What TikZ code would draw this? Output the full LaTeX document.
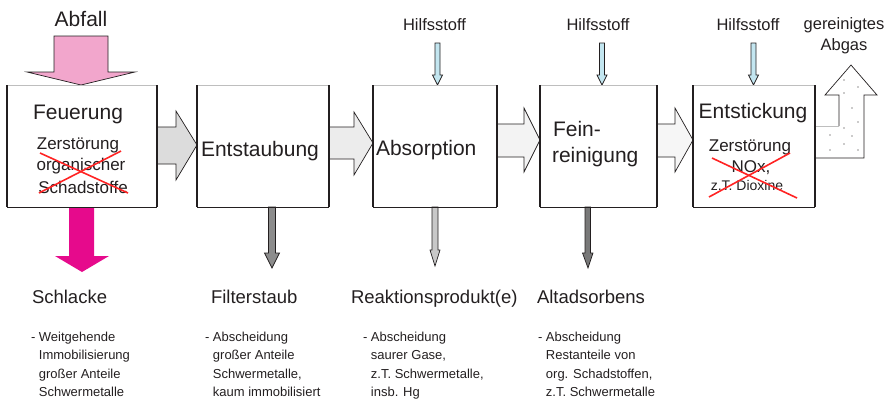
\documentclass[tikz,border=0pt]{standalone}
\usepackage{fontspec}
\setmainfont{Liberation Sans}
\usetikzlibrary{calc}

\definecolor{txtgray}{RGB}{35,31,32}
\definecolor{topgray}{RGB}{190,190,190}
\definecolor{abfallpink}{RGB}{242,166,204}
\definecolor{schlackemag}{RGB}{230,10,140}
\definecolor{hilfsblue}{RGB}{195,230,240}
\definecolor{crossred}{RGB}{255,35,35}
\definecolor{flowA}{RGB}{220,220,220}
\definecolor{flowB}{RGB}{236,236,236}
\definecolor{flowC}{RGB}{243,243,243}
\definecolor{flowD}{RGB}{246,246,246}
\definecolor{staubgray}{RGB}{140,140,140}
\definecolor{reakgray}{RGB}{200,200,200}
\definecolor{altgray}{RGB}{120,120,120}

\begin{document}
\begin{tikzpicture}[x=1pt,y=1pt]
\tikzstyle{every node}+=[inner sep=0pt, outer sep=0pt, text=txtgray]
\tikzstyle{stage}=[minimum height=122]
\tikzstyle{title}=[font=\fontsize{21}{26}\selectfont]
\tikzstyle{sub}=[font=\fontsize{17}{22}\selectfont]
\tikzstyle{small}=[font=\fontsize{14}{17}\selectfont]
\tikzstyle{label}=[font=\fontsize{18.5}{23}\selectfont, anchor=base west]
\tikzstyle{note}=[font=\fontsize{13}{18.5}\selectfont, anchor=base west, align=left]
\tikzstyle{hilfs}=[font=\fontsize{16.5}{21}\selectfont, anchor=base, align=center]
\tikzstyle{outl}=[draw=txtgray, line width=0.7]
\tikzstyle{cross}=[crossred, line width=1.6]
\useasboundingbox (0,0) rectangle (893,-400);

% stages
\node [stage, minimum width=150] (feu) at (82,-146) {};
\node [stage, minimum width=132] (ent) at (263,-146) {};
\node [stage, minimum width=124] (abs) at (435,-146) {};
\node [stage, minimum width=117] (fein) at (598.5,-146) {};
\node [stage, minimum width=122] (nox) at (754,-146) {};

% gas flow between the stages
\draw [outl, fill=flowA] let \p1=(feu.east), \p2=(ent.west) in
  (\x1,-127pt) -- (\x2-21pt,-127pt) -- (\x2-21pt,-111pt) -- (\x2,-145pt)
  -- (\x2-21pt,-180pt) -- (\x2-21pt,-164pt) -- (\x1,-164pt);
\draw [outl, fill=flowB] let \p1=(ent.east), \p2=(abs.west) in
  (\x1,-127pt) -- (\x2-19pt,-127pt) -- (\x2-19pt,-112pt) -- (\x2,-143pt)
  -- (\x2-19pt,-175pt) -- (\x2-19pt,-159pt) -- (\x1,-159pt);
\draw [outl, fill=flowC] let \p1=(abs.east), \p2=(fein.west) in
  (\x1,-124pt) -- (\x2-16pt,-124pt) -- (\x2-16pt,-108pt) -- (\x2,-140pt)
  -- (\x2-16pt,-172pt) -- (\x2-16pt,-157pt) -- (\x1,-157pt);
\draw [outl, fill=flowD] let \p1=(fein.east), \p2=(nox.west) in
  (\x1,-124pt) -- (\x2-18pt,-124pt) -- (\x2-18pt,-108pt) -- (\x2,-140pt)
  -- (\x2-18pt,-172pt) -- (\x2-18pt,-157pt) -- (\x1,-157pt);

% clean gas
\fill [white] let \p1=(nox.east) in
  (\x1,-126pt) -- (\x1+24pt,-126pt) -- (\x1+24pt,-95pt) -- (\x1+10pt,-95pt)
  -- (\x1+36pt,-65pt) -- (\x1+62pt,-95pt) -- (\x1+49pt,-95pt)
  -- (\x1+49pt,-158pt) -- (\x1,-158pt) -- cycle;
\draw [outl] let \p1=(nox.east) in
  (\x1+24pt,-126pt) -- (\x1+24pt,-95pt) -- (\x1+10pt,-95pt)
  -- (\x1+36pt,-65pt) -- (\x1+62pt,-95pt) -- (\x1+49pt,-95pt)
  -- (\x1+49pt,-158pt) -- (\x1,-158pt);
\draw [topgray, line width=0.7] let \p1=(nox.east) in
  (\x1,-126pt) -- (\x1+24pt,-126pt);
\foreach \dx/\dy in {29/80,43/87,29/93,37/108,43/122,29/128,15/135,37/136,15/150,29/144,43/150}
  \fill [txtgray] let \p1=(nox.east) in (\x1+\dx pt,-\dy pt) circle (0.6);

% waste in, slag out
\draw [outl, fill=abfallpink] let \p1=(feu.north) in
  (\x1-28pt,-36pt) -- (\x1+26pt,-36pt) -- (\x1+26pt,-72pt) -- (\x1+53pt,-72pt)
  -- (\x1-1pt,\y1) -- (\x1-55pt,-72pt) -- (\x1-28pt,-72pt) -- cycle;
\fill [schlackemag] let \p1=(feu.south) in
  (\x1-13pt,\y1) -- (\x1+12pt,\y1) -- (\x1+12pt,-256pt) -- (\x1+27pt,-256pt)
  -- (\x1,-272pt) -- (\x1-27pt,-256pt) -- (\x1-13pt,-256pt) -- cycle;

% residues
\draw [outl, fill=staubgray] let \p1=(ent.south) in
  (\x1+5.5pt,\y1) -- (\x1+12.5pt,\y1) -- (\x1+12.5pt,-253pt) -- (\x1+16.5pt,-253pt)
  -- (\x1+9pt,-268pt) -- (\x1+1.5pt,-253pt) -- (\x1+5.5pt,-253pt) -- cycle;
\draw [outl, fill=reakgray] let \p1=(abs.south) in
  (\x1-3pt,\y1) -- (\x1+3pt,\y1) -- (\x1+3pt,-250pt) -- (\x1+5pt,-250pt)
  -- (\x1,-266pt) -- (\x1-5pt,-250pt) -- (\x1-3pt,-250pt) -- cycle;
\draw [outl, fill=altgray] let \p1=(fein.south) in
  (\x1-13.5pt,\y1) -- (\x1-8pt,\y1) -- (\x1-8pt,-253pt) -- (\x1-5.5pt,-253pt)
  -- (\x1-10.5pt,-268pt) -- (\x1-16pt,-253pt) -- (\x1-13.5pt,-253pt) -- cycle;

% additives
\foreach \s/\dx in {abs/2.5,fein/3.5,nox/-0.5}
  \draw [outl, fill=hilfsblue] let \p1=(\s.north) in
    (\x1+\dx pt-2.5pt,-43pt) -- (\x1+\dx pt+2.5pt,-43pt) -- (\x1+\dx pt+2.5pt,-75pt)
    -- (\x1+\dx pt+5pt,-75pt) -- (\x1+\dx pt,\y1) -- (\x1+\dx pt-5pt,-75pt)
    -- (\x1+\dx pt-2.5pt,-75pt) -- cycle;

% stage borders
\foreach \s in {feu,ent,abs,fein,nox} {
  \draw [topgray, line width=0.8] (\s.north west) -- (\s.north east);
  \draw [txtgray, line width=1] (\s.south west) -- (\s.south east);
  \draw [txtgray, line width=2.5] (\s.north west) -- (\s.south west);
  \draw [txtgray, line width=2.5] (\s.north east) -- (\s.south east);
}

% texts in the stages
\node [title, anchor=base] (feut) at (78,-119) {Feuerung};
\node [sub, anchor=base] (feus1) at (78,-149) {Zerstörung};
\node [sub, anchor=base] (feus2) at (81,-170) {organischer};
\node [sub, anchor=base] (feus3) at (83,-193) {Schadstoffe};
\node [title, anchor=base west] (entt) at (201,-156) {Entstaubung};
\node [title, anchor=base west] (abst) at (376,-155) {Absorption};
\node [title, anchor=base west] (feint1) at (553,-136) {Fein-};
\node [title, anchor=base west] (feint2) at (552,-162) {reinigung};
\node [title, anchor=base] (noxt) at (753,-118) {Entstickung};
\node [sub, anchor=base] (noxs1) at (750,-151) {Zerstörung};
\node [sub, anchor=base] (noxs2) at (751,-172) {NOx,};
\node [small, anchor=base] (noxs3) at (747,-190) {z.T. Dioxine};
\draw [cross] (40,-153) -- (128,-193);
\draw [cross] (39,-193) -- (121,-151);
\draw [cross] (709,-197) -- (790,-153);
\draw [cross] (712,-158) -- (797,-198);

% texts above
\node [title, anchor=base] (abfall) at (81,-26) {Abfall};
\node [hilfs] (hilfs1) at (434.5,-30) {Hilfsstoff};
\node [hilfs] (hilfs2) at (598,-30) {Hilfsstoff};
\node [hilfs] (hilfs3) at (748,-30) {Hilfsstoff};
\node [hilfs] (abgas) at (844,-50) {gereinigtes\\Abgas};

% texts below (base = last line)
\node [label] (schlacke) at (32,-303) {Schlacke};
\node [label] (staub) at (211,-303) {Filterstaub};
\node [label] (reak) at (351,-303) {Reaktionsprodukt(e)};
\node [label] (altad) at (537,-303) {Altadsorbens};
\node [note] (schlackenote) at (31,-396.5) {- Weitgehende\\\hphantom{- }Immobilisierung\\\hphantom{- }großer Anteile\\\hphantom{- }Schwermetalle};
\node [note] (staubnote) at (205,-396.5) {- Abscheidung\\\hphantom{- }großer Anteile\\\hphantom{- }Schwermetalle,\\\hphantom{- }kaum immobilisiert};
\node [note] (reaknote) at (363,-396.5) {- Abscheidung\\\hphantom{- }saurer Gase,\\\hphantom{- }z.T. Schwermetalle,\\\hphantom{- }insb. Hg};
\node [note] (altadnote) at (538,-396.5) {- Abscheidung\\\hphantom{- }Restanteile von\\\hphantom{- }org. Schadstoffen,\\\hphantom{- }z.T. Schwermetalle};
\end{tikzpicture}
\end{document}
